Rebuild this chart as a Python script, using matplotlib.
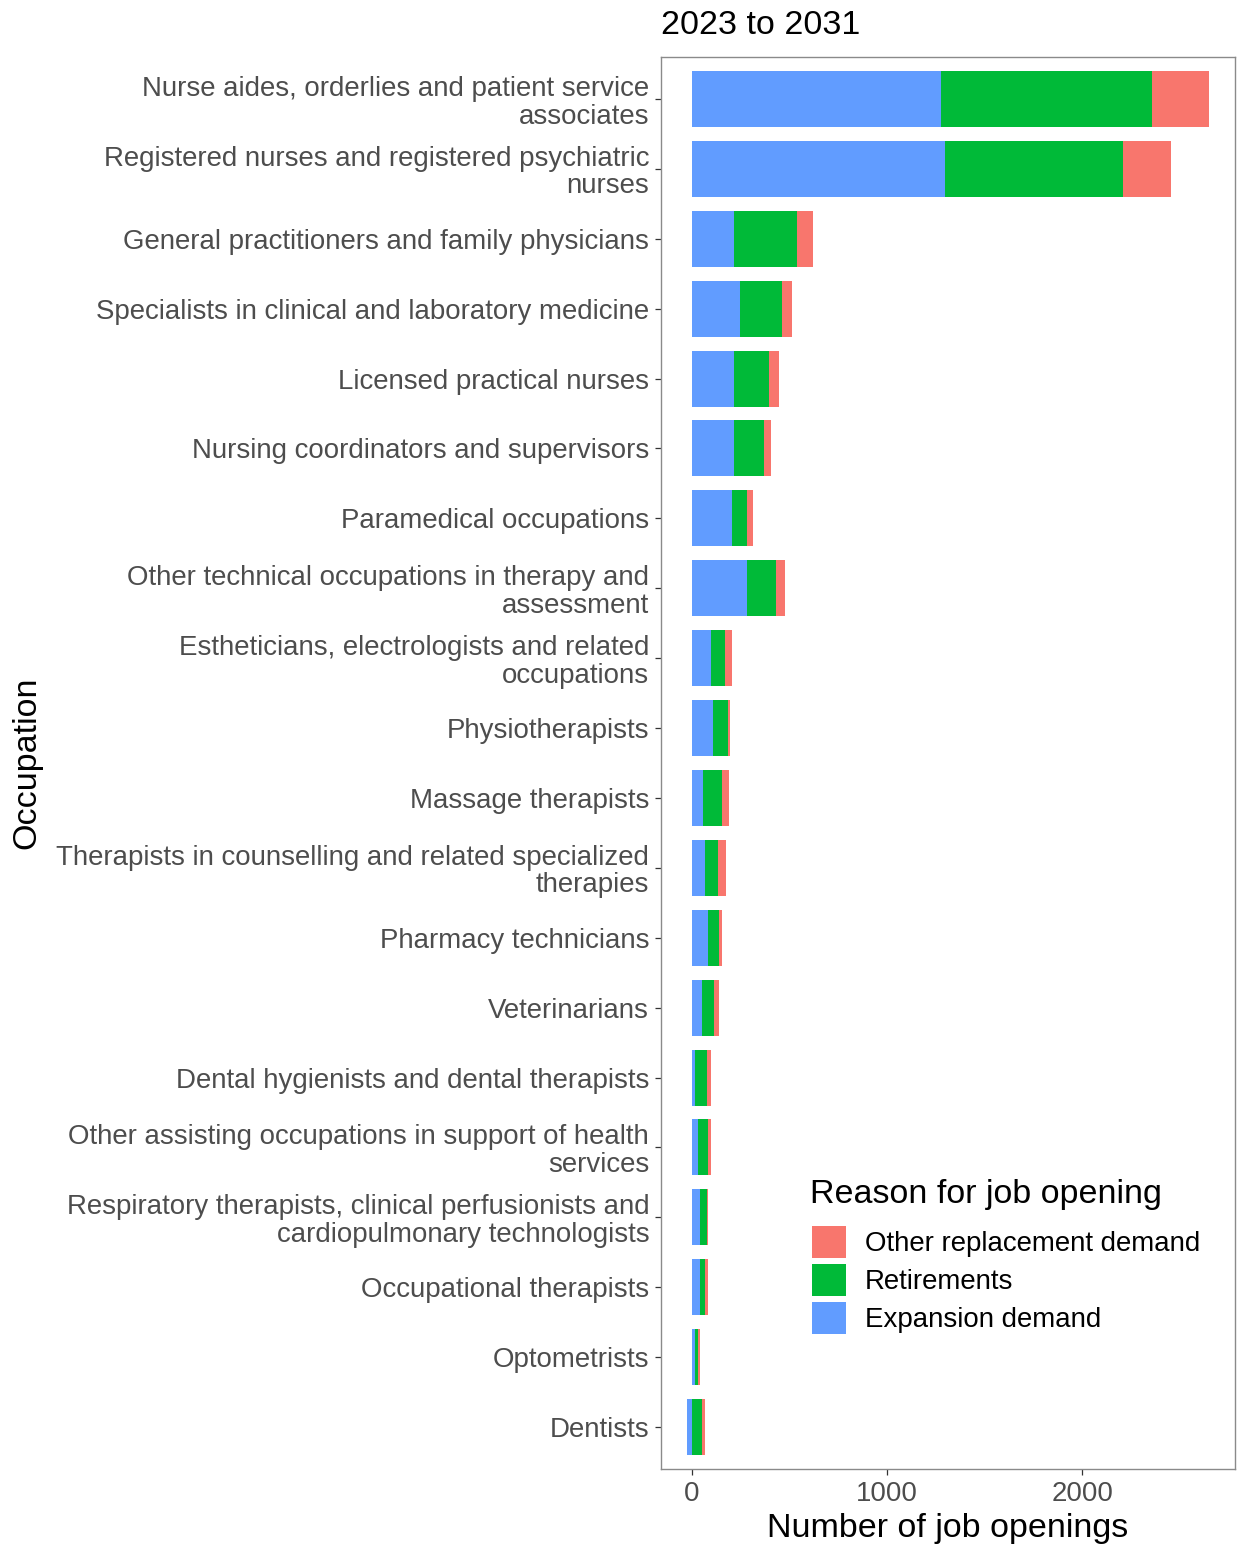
import numpy as np
import matplotlib
matplotlib.use("Agg")
import matplotlib.pyplot as plt
from matplotlib.patches import Patch

plt.rcParams['font.family'] = ['Liberation Sans', 'DejaVu Sans']

occupations = [
    "Nurse aides, orderlies and patient service\nassociates",
    "Registered nurses and registered psychiatric\nnurses",
    "General practitioners and family physicians",
    "Specialists in clinical and laboratory medicine",
    "Licensed practical nurses",
    "Nursing coordinators and supervisors",
    "Paramedical occupations",
    "Other technical occupations in therapy and\nassessment",
    "Estheticians, electrologists and related\noccupations",
    "Physiotherapists",
    "Massage therapists",
    "Therapists in counselling and related specialized\ntherapies",
    "Pharmacy technicians",
    "Veterinarians",
    "Dental hygienists and dental therapists",
    "Other assisting occupations in support of health\nservices",
    "Respiratory therapists, clinical perfusionists and\ncardiopulmonary technologists",
    "Occupational therapists",
    "Optometrists",
    "Dentists",
]

expansion = [1278, 1294, 214, 246, 213, 213, 205, 280, 98, 107,
             58, 66, 83, 49, 17, 32, 41, 41, 17, -25]
retirements = [1078, 913, 322, 217, 183, 158, 76, 149, 73, 75,
               98, 66, 58, 66, 58, 51, 34, 25, 15, 49]
other_repl = [292, 249, 83, 49, 49, 32, 32, 49, 34, 15,
              32, 41, 15, 25, 24, 15, 8, 17, 8, 17]

col_other = "#F8766D"
col_ret = "#00BA38"
col_exp = "#619CFF"

W, H = 1238, 1547
fig = plt.figure(figsize=(W / 100, H / 100), dpi=100)
x0, x1, y0, y1 = 661, 1235, 57, 1469
ax = fig.add_axes([x0 / W, 1 - y1 / H, (x1 - x0) / W, (y1 - y0) / H])

exp = np.array(expansion, dtype=float)
ret = np.array(retirements, dtype=float)
oth = np.array(other_repl, dtype=float)
y = np.arange(len(occupations))

# negatives stack below zero, positives from zero upward
ret_left = np.clip(exp, 0, None)
oth_left = ret_left + ret

ax.barh(y, exp, height=0.8, color=col_exp, linewidth=0)
ax.barh(y, ret, left=ret_left, height=0.8, color=col_ret, linewidth=0)
ax.barh(y, oth, left=oth_left, height=0.8, color=col_other, linewidth=0)

lo = min(0, exp.min())
hi = (oth_left + oth).max()
rng = hi - lo
ax.set_xlim(lo - 0.05 * rng, hi + 0.05 * rng)
ax.set_ylim(len(occupations) - 0.4, -0.6)

ax.set_yticks(y)
ax.set_yticklabels(occupations, fontsize=19.9, color="#4D4D4D", linespacing=1.08)
ax.set_xticks([0, 1000, 2000])
ax.set_xticklabels(["0", "1000", "2000"], fontsize=19.9, color="#4D4D4D")
ax.tick_params(axis="both", length=4.5, width=0.9, color="#333333", pad=4)

for s in ax.spines.values():
    s.set_color("#8a8a8a")
    s.set_linewidth(1.0)

fig.text(x0 / W, 1 - 26 / H, "2023 to 2031", fontsize=24.5, ha="left", va="center")
fig.text(27 / W, 1 - 763 / H, "Occupation", fontsize=24.5, rotation=90,
         ha="center", va="center")
fig.text((x0 + x1) / 2 / W, 1 - 1528 / H, "Number of job openings", fontsize=24.5,
         ha="center", va="center")

# legend
fig.text(810 / W, 1 - 1195 / H, "Reason for job opening", fontsize=24.5,
         ha="left", va="center")
handles = [Patch(facecolor=col_other, edgecolor="none"),
           Patch(facecolor=col_ret, edgecolor="none"),
           Patch(facecolor=col_exp, edgecolor="none")]
leg = fig.legend(handles, ["Other replacement demand", "Retirements", "Expansion demand"],
                 loc="upper left", bbox_to_anchor=(812 / W, 1 - 1226 / H), frameon=False,
                 fontsize=19.9, handlelength=1.23, handleheight=1.4, handletextpad=0.68,
                 labelspacing=0.22, borderpad=0, borderaxespad=0)

fig.savefig("out.png", dpi=100)
